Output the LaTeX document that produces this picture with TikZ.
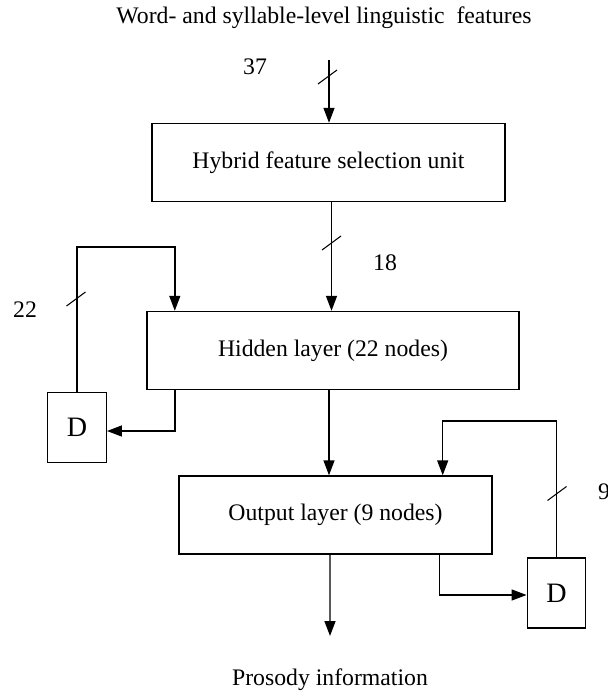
\documentclass[tikz,border=0pt]{standalone}
\usepackage{fontspec}
\setmainfont{Liberation Serif}
\usetikzlibrary{arrows.meta}

\tikzset{
  blk/.style={draw, line width=0.8pt, minimum width=#1, minimum height=1.56cm, font=\fontsize{13.5}{16}\selectfont},
  dbox/.style={draw, line width=0.8pt, minimum width=1.17cm, minimum height=1.4cm, font=\fontsize{16}{19}\selectfont},
  arr/.style={line width=0.8pt, -{Triangle[length=0.3cm,width=0.22cm]}},
  lbl/.style={font=\fontsize{13.5}{16}\selectfont},
  busmark/.style={line width=0.6pt}
}

\begin{document}
\begin{tikzpicture}
        \useasboundingbox (0,0) rectangle (12.16,-13.92);

        \node[lbl] (title) at (6.48,-0.36) {Word- and syllable-level linguistic~ features};
        \node[blk=7.06cm] (hyb) at (6.57,-3.25) {Hybrid feature selection unit};
        \node[blk=7.44cm] (hid) at (6.66,-7.01) {Hidden layer (22 nodes)};
        \node[blk=6.26cm] (out) at (6.71,-10.30) {Output layer (9 nodes)};
        \node[dbox] (dl) at (1.54,-8.55) {D};
        \node[dbox] (dr) at (11.13,-11.86) {D};
        \node[lbl] (pros) at (6.60,-13.60) {Prosody information};

        \node[lbl] (n37) at (5.10,-1.34) {37};
        \node[lbl] (n18) at (7.70,-5.26) {18};
        \node[lbl] (n22) at (0.50,-6.20) {22};
        \node[lbl] (n9) at (12.08,-9.84) {9};

        \coordinate (in) at (6.58,-1.20);
        \coordinate (po) at (6.60,-12.72);
        \coordinate (fl) at (1.50,-4.94);
        \coordinate (fr) at (11.14,-8.42);

        \draw[arr] (in) -- (in |- hyb.north);
        \draw[arr] ([xshift=0.06cm]hyb.south) -- ([xshift=0.06cm]hyb.south |- hid.north);
        \draw[arr] ([xshift=-0.08cm]hid.south) -- ([xshift=-0.08cm]hid.south |- out.north);
        \draw[arr] ([xshift=-0.11cm]out.south) -- (po);

        \draw[arr] (dl.north) -- (dl.north |- fl) -| ([xshift=0.57cm]hid.north west);
        \draw[arr] ([xshift=0.57cm]hid.south west) |- ([yshift=-0.07cm]dl.east);
        \draw[arr] (dr.north) -- (dr.north |- fr) -| ([xshift=-1.0cm]out.north east);
        \draw[arr] ([xshift=-1.06cm]out.south east) |- ([yshift=-0.04cm]dr.west);

        \foreach \p in {(6.55,-1.54),(6.63,-4.86),(1.52,-5.98),(11.14,-9.87)}
          \draw[busmark] \p ++(-0.19,-0.14) -- ++(0.38,0.28);

\end{tikzpicture}
\end{document}
